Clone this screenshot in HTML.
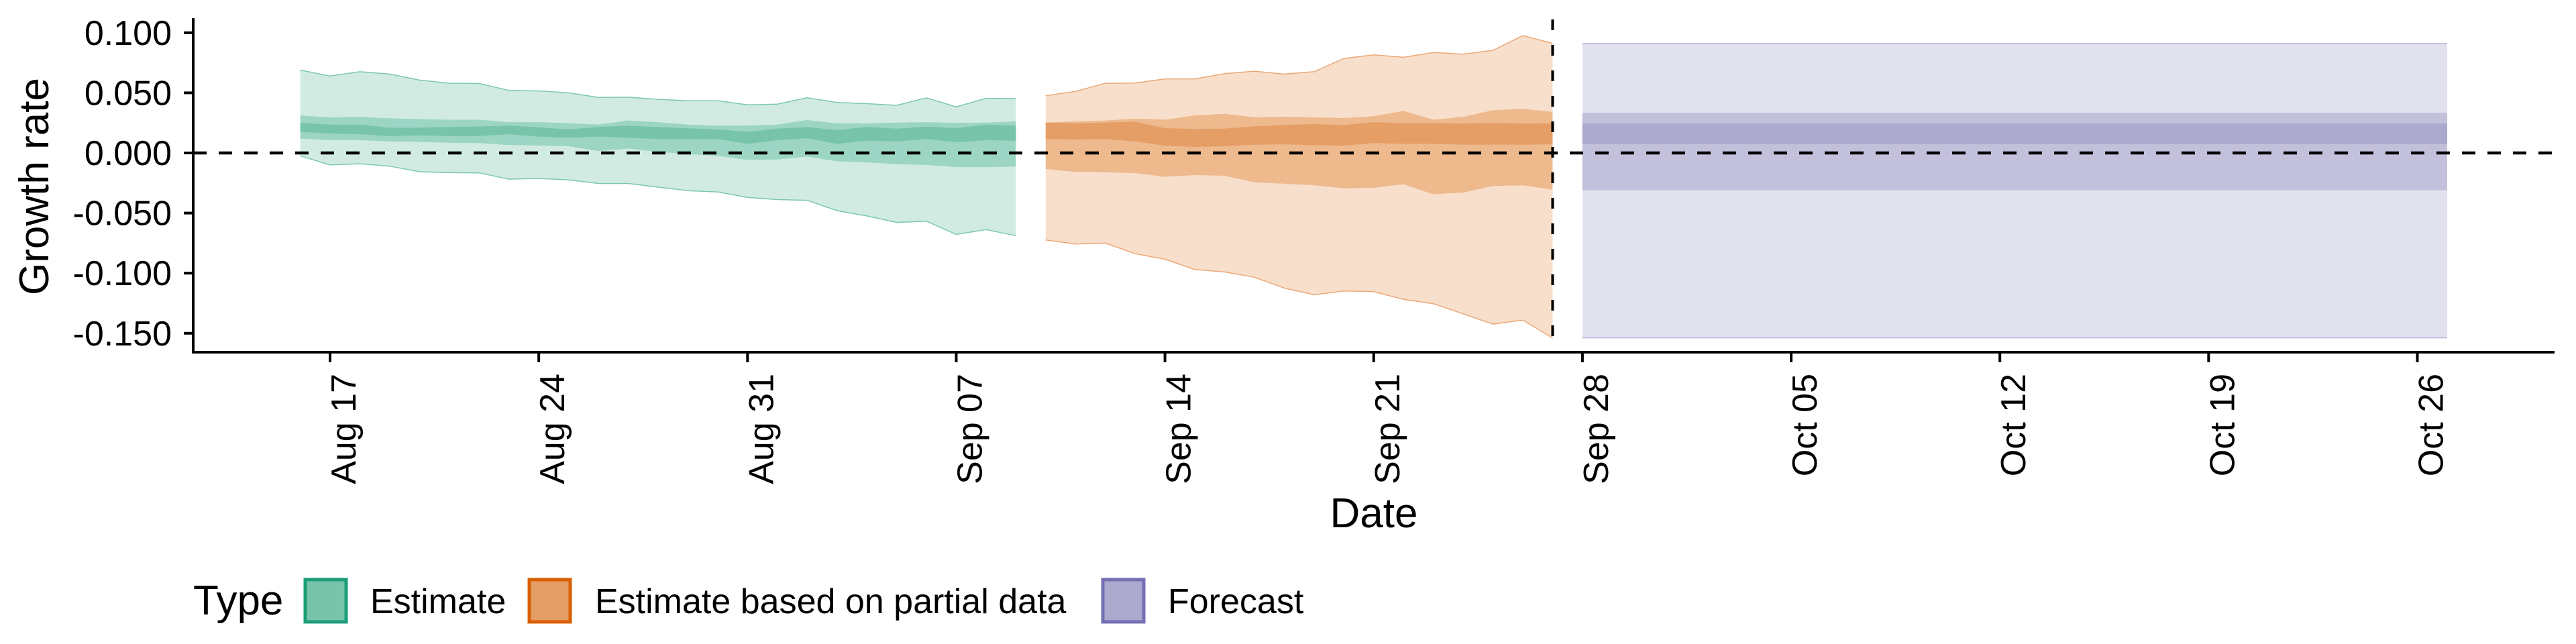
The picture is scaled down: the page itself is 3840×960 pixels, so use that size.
<!DOCTYPE html>
<html><head><meta charset="utf-8"><style>
html,body{margin:0;padding:0;background:#fff}
svg{display:block;font-family:"Liberation Sans",sans-serif}
</style></head><body>
<svg id="chart" width="3840" height="960" viewBox="0 0 3840 960" xmlns="http://www.w3.org/2000/svg">
<g id="plot"></g>
<g id="axes"></g>
<text x="0" y="0" transform="translate(72,278) rotate(-90)" text-anchor="middle" font-size="62">Growth rate</text>
<text x="2048" y="786" text-anchor="middle" font-size="62">Date</text>
<g>
<text x="288" y="916" font-size="62">Type</text>
<rect x="455" y="864" width="61" height="63" fill="#77c4ab" stroke="#1b9e77" stroke-width="5"/>
<text x="552" y="914" font-size="52">Estimate</text>
<rect x="789" y="864" width="61" height="63" fill="#e59e66" stroke="#d95f02" stroke-width="5"/>
<text x="887" y="914" font-size="52">Estimate based on partial data</text>
<rect x="1644" y="864" width="61" height="63" fill="#aba9ce" stroke="#7570b3" stroke-width="5"/>
<text x="1741" y="914" font-size="52">Forecast</text>
</g>
</svg>
<script>
// ---- data (days relative to Aug 17) ----
const estDays = [-1,0,1,2,3,4,5,6,7,8,9,10,11,12,13,14,15,16,17,18,19,20,21,22,23];
const estOuterHi = [0.069,0.064,0.0676,0.0656,0.0606,0.058,0.0578,0.052,0.0516,0.05,0.0462,0.0464,0.0446,0.0434,0.0434,0.04,0.0406,0.046,0.042,0.041,0.0396,0.0458,0.0384,0.0454,0.0452];
const estOuterLo = [-0.0024,-0.01,-0.009,-0.011,-0.0156,-0.0164,-0.0166,-0.0218,-0.0212,-0.0224,-0.0254,-0.0254,-0.0284,-0.0314,-0.0324,-0.037,-0.0388,-0.0394,-0.048,-0.0524,-0.0578,-0.0568,-0.0678,-0.0638,-0.0688];
const estMidHi = [0.0312,0.0296,0.03,0.0288,0.0282,0.0276,0.0276,0.0256,0.0256,0.0248,0.0236,0.027,0.0256,0.0236,0.0226,0.0228,0.0236,0.0274,0.0246,0.0246,0.0252,0.0256,0.025,0.0252,0.0264];
const estMidLo = [0.012,0.0106,0.0106,0.0096,0.0092,0.0084,0.0082,0.0066,0.0062,0.0056,0.0016,0.0036,0.001,-0.001,-0.0024,-0.0058,-0.0054,-0.003,-0.007,-0.0078,-0.0094,-0.01,-0.0118,-0.0118,-0.0114];
const estInHi = [0.025,0.0236,0.0236,0.021,0.021,0.0216,0.022,0.0228,0.0212,0.0196,0.0216,0.0226,0.0216,0.0206,0.0196,0.0176,0.0202,0.0216,0.019,0.0216,0.0202,0.022,0.0206,0.0236,0.0226];
const estInLo = [0.0176,0.0162,0.0156,0.014,0.0146,0.014,0.014,0.0156,0.0136,0.0126,0.0136,0.0126,0.0116,0.0116,0.0116,0.0076,0.0106,0.0122,0.0076,0.0102,0.0096,0.0116,0.009,0.0106,0.0102];

const parDays = [24,25,26,27,28,29,30,31,32,33,34,35,36,37,38,39,40,41];
const parOuterHi = [0.0476,0.0512,0.058,0.0582,0.0616,0.0616,0.066,0.068,0.0656,0.0676,0.0786,0.0816,0.0796,0.0836,0.0822,0.0854,0.0976,0.0912];
const parOuterLo = [-0.0724,-0.0758,-0.075,-0.0838,-0.0884,-0.097,-0.099,-0.1034,-0.1124,-0.118,-0.1148,-0.1154,-0.1218,-0.1254,-0.1338,-0.1424,-0.139,-0.154];
const parMidHi = [0.0254,0.0262,0.027,0.0286,0.0276,0.0312,0.0326,0.0296,0.0302,0.0296,0.029,0.0306,0.035,0.0276,0.03,0.0356,0.0366,0.0342];
const parMidLo = [-0.0134,-0.0158,-0.016,-0.0168,-0.0198,-0.0184,-0.019,-0.0244,-0.0256,-0.0268,-0.0294,-0.029,-0.026,-0.0344,-0.033,-0.0274,-0.027,-0.0304];
const parInHi = [0.0252,0.0246,0.0252,0.026,0.0206,0.02,0.0202,0.0222,0.0232,0.024,0.0232,0.0256,0.0248,0.0248,0.0244,0.025,0.0244,0.0246];
const parInLo = [0.0116,0.0112,0.0116,0.0096,0.006,0.005,0.0056,0.0068,0.0072,0.0064,0.006,0.0082,0.0076,0.0076,0.0068,0.007,0.0068,0.0072];

const fcDays = [42,71];
const fcOuterHi = [0.091,0.091];
const fcOuterLo = [-0.1538,-0.1538];
const fcMidHi = [0.0335,0.0335];
const fcMidLo = [-0.031,-0.031];
const fcInHi = [0.0245,0.0245];
const fcInLo = [0.0074,0.0074];

const yTicks = [0.1,0.05,0,-0.05,-0.1,-0.15];
const yTickLabels = ["0.100","0.050","0.000","-0.050","-0.100","-0.150"];
const xTickDays = [0,7,14,21,28,35,42,49,56,63,70];
const xTickLabels = ["Aug 17","Aug 24","Aug 31","Sep 07","Sep 14","Sep 21","Sep 28","Oct 05","Oct 12","Oct 19","Oct 26"];
const cutoffDay = 41;

// ---- scales ----
const X0 = 492, DX = 44.45;
const x = d => X0 + d * DX;
const Y0 = 228, DY = 1792;
const y = v => Y0 - v * DY;
const NS = "http://www.w3.org/2000/svg";
const plot = document.getElementById('plot');
const axes = document.getElementById('axes');

function ribbon(days, lo, hi, fill, stroke, name) {
  let pts = days.map((d,i)=>x(d).toFixed(1)+','+y(hi[i]).toFixed(1));
  for (let i=days.length-1;i>=0;i--) pts.push(x(days[i]).toFixed(1)+','+y(lo[i]).toFixed(1));
  const p = document.createElementNS(NS,'polygon');
  p.setAttribute('points', pts.join(' '));
  p.setAttribute('fill', fill);
  
  
  plot.appendChild(p);
  if (stroke) {
    [hi, lo].forEach(arr => {
      const l = document.createElementNS(NS,'polyline');
      l.setAttribute('points', days.map((d,i)=>x(d).toFixed(1)+','+y(arr[i]).toFixed(1)).join(' '));
      l.setAttribute('fill','none');
      l.setAttribute('stroke', stroke);
      l.setAttribute('stroke-width','1.5');
      
      
      plot.appendChild(l);
    });
  }
}
ribbon(estDays, estOuterLo, estOuterHi, '#d1ebe2', '#7dc8b0', 'estimate-90-band');
ribbon(estDays, estMidLo, estMidHi, '#9cd5c3', null, 'estimate-50-band');
ribbon(estDays, estInLo, estInHi, '#77c4ab', null, 'estimate-20-band');
ribbon(parDays, parOuterLo, parOuterHi, '#f7dfcb', '#eba878', 'partial-90-band');
ribbon(parDays, parMidLo, parMidHi, '#edb98d', null, 'partial-50-band');
ribbon(parDays, parInLo, parInHi, '#e59e66', null, 'partial-20-band');
ribbon(fcDays, fcOuterLo, fcOuterHi, '#e2e2ee', '#b9b6dc', 'forecast-90-band');
ribbon(fcDays, fcMidLo, fcMidHi, '#c3c0dc', null, 'forecast-50-band');
ribbon(fcDays, fcInLo, fcInHi, '#aba9ce', null, 'forecast-20-band');

// zero line
const zl = document.createElementNS(NS,'line');
zl.setAttribute('x1', 288); zl.setAttribute('x2', 3808);
zl.setAttribute('y1', y(0)); zl.setAttribute('y2', y(0));
zl.setAttribute('stroke','#000'); zl.setAttribute('stroke-width','4.5');
zl.setAttribute('stroke-dasharray','20 18');


plot.appendChild(zl);
// cutoff line
const cl = document.createElementNS(NS,'line');
cl.setAttribute('x1', x(cutoffDay)); cl.setAttribute('x2', x(cutoffDay));
cl.setAttribute('y1', 29); cl.setAttribute('y2', 525);
cl.setAttribute('stroke','#000'); cl.setAttribute('stroke-width','4');
cl.setAttribute('stroke-dasharray','16 22');


plot.appendChild(cl);

// axes lines
function line(x1,y1,x2,y2,w,name){
  const l = document.createElementNS(NS,'line');
  l.setAttribute('x1',x1);l.setAttribute('y1',y1);l.setAttribute('x2',x2);l.setAttribute('y2',y2);
  l.setAttribute('stroke','#000');l.setAttribute('stroke-width',w);
  
  
  axes.appendChild(l);
}
line(288,27,288,527,4,'y-axis-line');
line(286,525,3808,525,4,'x-axis-line');
yTicks.forEach((v,i)=>{
  line(274,y(v),288,y(v),4,'y-tick');
  const t = document.createElementNS(NS,'text');
  t.setAttribute('x',256); t.setAttribute('y',y(v)+18);
  t.setAttribute('text-anchor','end'); t.setAttribute('font-size','52');
  t.textContent = yTickLabels[i];
  
  
  axes.appendChild(t);
});
xTickDays.forEach((d,i)=>{
  line(x(d),525,x(d),540,4,'x-tick');
  const t = document.createElementNS(NS,'text');
  t.setAttribute('transform','translate('+(x(d)+38)+',557) rotate(-90)');
  t.setAttribute('text-anchor','end'); t.setAttribute('font-size','52');
  t.textContent = xTickLabels[i];
  
  
  axes.appendChild(t);
});
</script>
</body></html>
